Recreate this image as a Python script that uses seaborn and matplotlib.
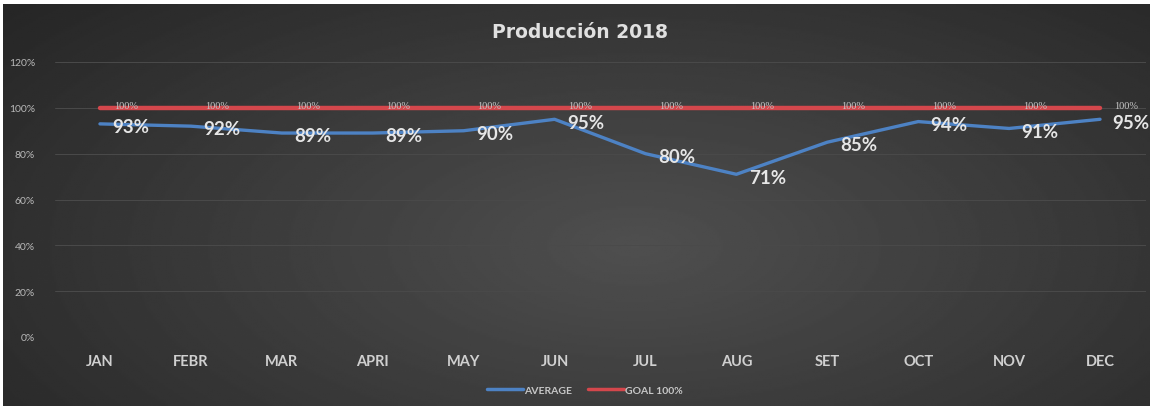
import numpy as np
import pandas as pd
import matplotlib
matplotlib.use("Agg")
import matplotlib.pyplot as plt
import seaborn as sns
from matplotlib.lines import Line2D

months = ["JAN", "FEBR", "MAR", "APRI", "MAY", "JUN", "JUL", "AUG", "SET", "OCT", "NOV", "DEC"]
average = [93, 92, 89, 89, 90, 95, 80, 71, 85, 94, 91, 95]
goal = [100] * 12
y_ticks = [0, 20, 40, 60, 80, 100, 120]
title = "Producción 2018"
series_names = ["AVERAGE", "GOAL 100%"]

sns.set_theme(style="dark")
plt.rcParams['font.family'] = ['Lato', 'DejaVu Sans']

W, H = 1153, 410
fig = plt.figure(figsize=(W / 100, H / 100), dpi=100, facecolor="white")

# gradient background
bg = fig.add_axes([3 / W, 3 / H, 1147 / W, 402 / H])
yy, xx = np.mgrid[0:200, 0:600]
cx, cy = 330, 120
r = np.sqrt(((xx - cx) / 560) ** 2 + ((yy - cy) / 240) ** 2)
val = 0.31 - 0.21 * np.clip(r, 0, 1)
bg.imshow(val, cmap="gray", vmin=0, vmax=1, aspect="auto", extent=[0, 1, 0, 1])
bg.set_axis_off()

ax = fig.add_axes([54.5 / W, (H - 338) / H, 1091 / W, 275 / H])
ax.set_facecolor("none")

df = pd.DataFrame({
    "month": months * 2,
    "x": list(range(12)) * 2,
    "value": average + goal,
    "series": [series_names[0]] * 12 + [series_names[1]] * 12,
})
palette = {series_names[0]: "#4d82c4", series_names[1]: "#d4474c"}
sns.lineplot(data=df[df.series == series_names[1]], x="x", y="value", color=palette[series_names[1]],
             linewidth=3.2, ax=ax, legend=False)
sns.lineplot(data=df[df.series == series_names[0]], x="x", y="value", color=palette[series_names[0]],
             linewidth=2.4, ax=ax, legend=False)

ax.set_xlim(-0.5, 11.5)
ax.set_ylim(0, 120)
ax.set_yticks(y_ticks)
ax.set_yticklabels([f"{v}%" for v in y_ticks], color="#b8b8b8", fontsize=7.5)
ax.set_xticks(range(12))
ax.set_xticklabels(months, color="#d0d0d0", fontsize=10.5, fontweight="bold")
ax.tick_params(axis="x", pad=12, length=0)
ax.tick_params(axis="y", pad=14, length=0)
ax.grid(axis="y", color="#4a4a4a", linewidth=0.7)
ax.grid(axis="x", visible=False)
for s in ax.spines.values():
    s.set_visible(False)
ax.set_xlabel("")
ax.set_ylabel("")

for i, (a, g) in enumerate(zip(average, goal)):
    ax.annotate(f"{g}%", (i, g), xytext=(10, 1.5), textcoords="offset points", ha="left", va="center",
                fontsize=7.5, color="#c8c8c8", family="Liberation Serif")
    ax.annotate(f"{a}%", (i, a), xytext=(9, -2), textcoords="offset points", ha="left", va="center",
                fontsize=13.5, color="#e6e6e6", fontweight="bold")

fig.text(580 / W, 1 - 32 / H, title, ha="center", va="center", fontsize=13.5, fontweight="bold",
         color="#e0e0e0", family=["DejaVu Sans"])

handles = [Line2D([0], [0], color=palette[n], lw=2.5) for n in series_names]
leg = fig.legend(handles, series_names, loc="center", bbox_to_anchor=(585 / W, 1 - 391 / H), ncol=2,
                 frameon=False, fontsize=7.5, handlelength=3.5, handletextpad=0.1, columnspacing=1.5)
for t in leg.get_texts():
    t.set_color("#c8c8c8")
    t.set_fontweight("bold")

fig.savefig("out.png", dpi=100, facecolor="white")
